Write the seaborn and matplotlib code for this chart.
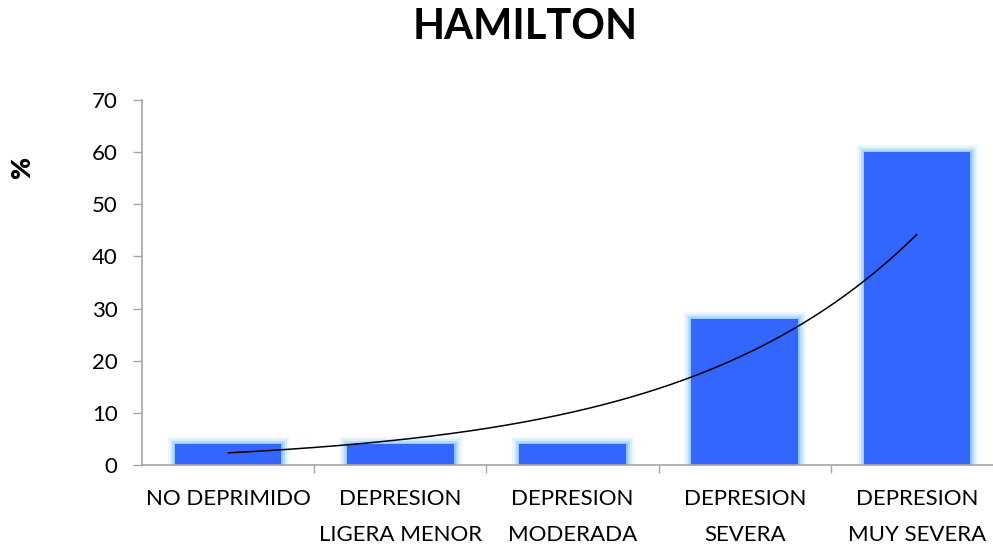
import numpy as np
import pandas as pd
import matplotlib
matplotlib.use("Agg")
import matplotlib.pyplot as plt
import matplotlib.patheffects as pe
import seaborn as sns

categories = ["NO DEPRIMIDO", "DEPRESION\nLIGERA MENOR", "DEPRESION\nMODERADA",
              "DEPRESION\nSEVERA", "DEPRESION\nMUY SEVERA"]
values = [4, 4, 4, 28, 60]
yticks = [0, 10, 20, 30, 40, 50, 60, 70]
title = "HAMILTON"
ylabel = "%"

sns.set_theme(style="white")
plt.rcParams['font.family'] = ['Lato', 'DejaVu Sans']
plt.rcParams['text.color'] = 'black'
plt.rcParams['xtick.color'] = 'black'
plt.rcParams['ytick.color'] = 'black'

W, H = 993, 544
fig = plt.figure(figsize=(W / 100, H / 100), dpi=100)
ax = fig.add_axes([142 / W, 1 - 465 / H, (1003 - 142) / W, (465 - 100) / H])

df = pd.DataFrame({"cat": categories, "val": values})
sns.barplot(data=df, x="cat", y="val", ax=ax, color="#3366ff", saturation=1,
            width=0.62, edgecolor="none")
for p in ax.patches:
    p.set_path_effects([pe.Stroke(linewidth=11, foreground="#eef7ff"),
                        pe.Stroke(linewidth=8, foreground="#d8ecff"),
                        pe.Stroke(linewidth=5, foreground="#b5dbff"),
                        pe.Stroke(linewidth=2, foreground="#8ec4ff"),
                        pe.Normal()])
    p.set_zorder(2)

# Exponential trendline (least-squares fit on log values)
xs = np.arange(1, len(values) + 1)
b, a = np.polyfit(xs, np.log(values), 1)
xf = np.linspace(1, len(values), 200)
ax.plot(xf - 1, np.exp(a + b * xf), color="black", lw=1.1, zorder=3)

ax.set_xlim(-0.5, len(values) - 0.5)
ax.set_ylim(0, 70)
ax.set_yticks(yticks)
ax.set_xlabel("")
ax.set_ylabel("")

for s in ["top", "right"]:
    ax.spines[s].set_visible(False)
for s in ["left", "bottom"]:
    ax.spines[s].set_color("#a6a6a6")
    ax.spines[s].set_linewidth(1.2)

ax.tick_params(axis="y", which="major", left=True, length=6.5, width=1, color="#a6a6a6",
               pad=11, labelsize=16, labelcolor="black")
ax.set_xticks(np.arange(len(values)))
ax.set_xticklabels(categories, fontsize=16, color="black", linespacing=2.05)
ax.tick_params(axis="x", which="major", bottom=False, length=0, pad=17, labelcolor="black")
ax.set_xticks(np.arange(len(values) - 1) + 0.5, minor=True)
ax.tick_params(axis="x", which="minor", bottom=True, length=6, width=1, color="#a6a6a6")
for lbl in ax.get_xticklabels():
    lbl.set_verticalalignment("top")

fig.text(525 / W, 1 - 27 / H, title, ha="center", va="center", fontsize=30,
         fontweight="bold", color="black")
fig.text(22 / W, 1 - 168 / H, ylabel, ha="center", va="center", rotation=90,
         fontsize=19, fontweight="heavy", color="black")

fig.savefig("out.png", dpi=100)
